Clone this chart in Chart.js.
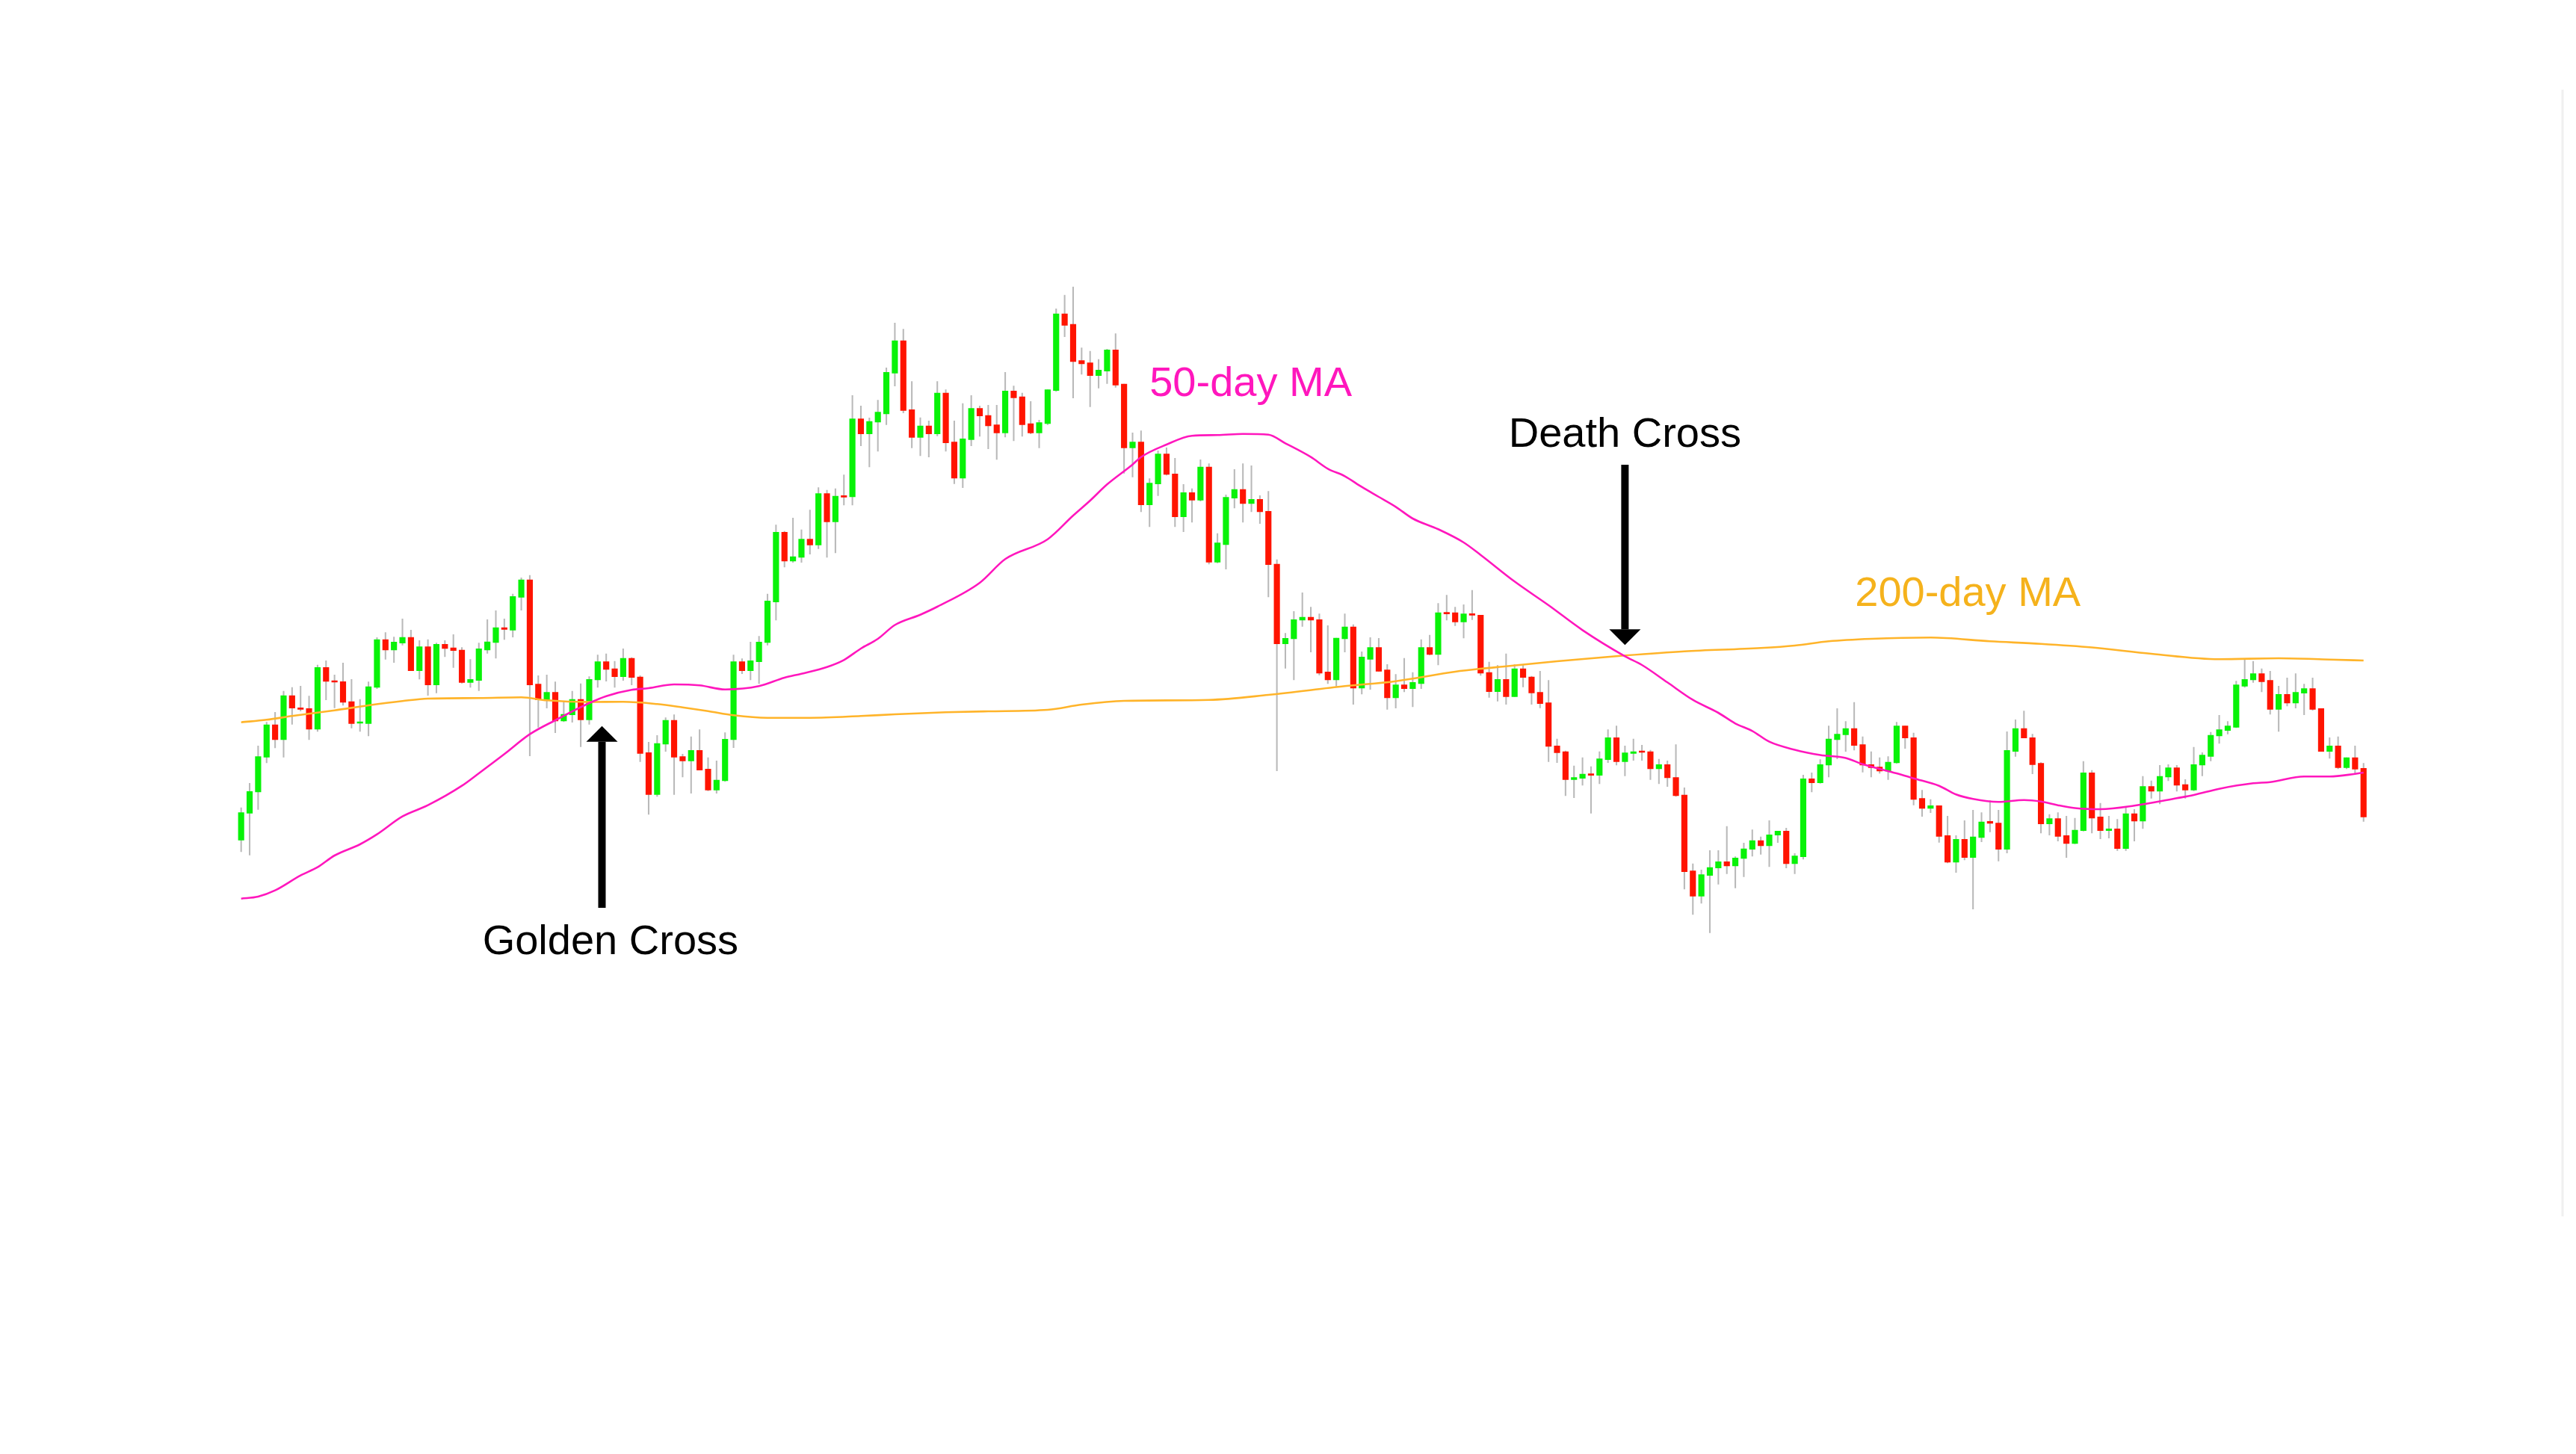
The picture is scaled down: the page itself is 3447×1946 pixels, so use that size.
<!DOCTYPE html>
<html lang="en">
<head>
<meta charset="utf-8">
<title>Golden Cross / Death Cross</title>
<script src="https://cdn.jsdelivr.net/npm/chart.js@4.4.1/dist/chart.umd.min.js"></script>
<style>
    html, body { margin: 0; padding: 0; background: #ffffff; }
    #wrap { position: relative; width: 100vw; height: 100vh; }
</style>
</head>
<body>
<div id="wrap"><canvas id="crossChart"></canvas></div>
<script>
// Daily candles (open / high / low / close)
const opens = [
    27.57, 31.17, 34.00, 38.67, 43.00, 41.00, 46.90, 45.27, 45.17, 42.40,
    50.67, 48.90, 48.77, 46.10, 43.20, 43.17, 48.00, 54.40, 53.00, 53.93,
    54.70, 50.23, 53.43, 48.33, 53.77, 53.30, 53.00, 48.67, 48.93, 53.00,
    54.00, 56.00, 55.67, 60.07, 62.40, 48.43, 46.33, 47.33, 43.50, 44.33,
    46.40, 43.67, 49.00, 51.43, 50.50, 49.43, 51.90, 49.40, 39.27, 33.67,
    40.40, 43.60, 38.73, 38.17, 39.57, 37.07, 34.27, 35.50, 41.00, 51.43,
    50.23, 51.43, 54.00, 59.43, 68.77, 64.90, 65.40, 67.83, 67.07, 73.93,
    70.17, 73.67, 73.50, 83.93, 81.93, 83.50, 84.60, 90.07, 94.40, 85.17,
    81.47, 83.00, 81.93, 87.40, 80.83, 76.00, 81.17, 85.33, 84.40, 83.13,
    82.07, 87.67, 86.90, 83.30, 82.07, 83.30, 87.73, 98.00, 96.60, 91.73,
    91.43, 89.73, 90.33, 93.17, 88.60, 80.07, 80.83, 72.43, 75.23, 79.23,
    76.57, 70.83, 74.07, 73.07, 77.50, 64.77, 67.10, 73.33, 74.50, 72.60,
    73.17, 71.57, 64.50, 53.83, 54.50, 57.00, 57.40, 57.07, 50.07, 49.00,
    54.50, 56.10, 47.90, 51.77, 53.33, 50.33, 46.60, 48.33, 47.83, 48.50,
    53.33, 52.40, 58.00, 58.00, 56.77, 57.83, 57.67, 50.00, 47.43, 49.07,
    46.77, 50.50, 49.40, 47.33, 45.93, 40.17, 39.40, 35.67, 35.83, 36.43,
    36.23, 38.33, 41.27, 38.07, 39.17, 39.40, 39.40, 37.10, 37.67, 35.93,
    33.60, 23.43, 20.07, 22.83, 23.83, 24.67, 24.10, 25.10, 26.33, 27.50,
    26.80, 28.23, 28.77, 24.40, 25.33, 35.77, 35.23, 37.60, 41.00, 41.67,
    42.50, 40.33, 37.67, 37.33, 36.80, 37.90, 42.83, 41.27, 33.13, 31.80,
    32.17, 28.17, 24.60, 27.67, 25.23, 27.90, 30.07, 29.83, 26.33, 39.43,
    42.50, 41.27, 37.83, 29.73, 30.43, 28.17, 27.10, 28.83, 36.57, 30.67,
    28.83, 29.07, 26.43, 31.10, 30.10, 34.73, 34.10, 36.00, 37.23, 35.00,
    34.27, 37.60, 38.77, 41.50, 42.23, 42.67, 48.17, 49.00, 49.83, 48.93,
    45.07, 47.07, 45.90, 47.23, 47.83, 45.17, 39.43, 40.17, 37.27, 38.60,
    37.17
];
const highs = [
    31.90, 35.17, 40.17, 43.33, 44.67, 47.50, 48.00, 48.17, 46.83, 51.00,
    51.57, 49.67, 51.27, 49.07, 46.40, 48.73, 54.67, 55.33, 54.73, 57.17,
    55.67, 54.27, 54.40, 53.93, 54.27, 55.07, 53.33, 51.73, 53.93, 57.07,
    58.27, 57.17, 60.50, 62.67, 63.00, 49.57, 49.67, 48.73, 46.17, 47.50,
    48.50, 49.43, 52.33, 52.50, 51.50, 53.17, 52.00, 49.57, 40.67, 41.57,
    43.93, 44.33, 39.07, 41.40, 42.33, 38.60, 38.17, 41.93, 52.33, 51.83,
    54.07, 54.83, 60.50, 69.73, 68.90, 70.67, 69.10, 71.73, 74.73, 74.40,
    74.60, 76.43, 87.07, 85.67, 84.07, 86.43, 90.77, 96.77, 95.93, 88.93,
    84.10, 83.67, 88.93, 87.83, 83.67, 86.00, 87.07, 85.67, 85.77, 85.77,
    90.17, 88.33, 87.40, 86.27, 83.77, 87.83, 98.67, 100.50, 101.60, 93.43,
    93.00, 91.90, 93.27, 95.33, 88.60, 82.07, 82.33, 75.93, 79.67, 80.07,
    78.67, 75.17, 74.60, 78.47, 77.93, 68.60, 73.77, 77.17, 77.93, 77.67,
    73.67, 74.23, 65.10, 55.23, 58.17, 60.67, 58.73, 57.83, 56.27, 54.60,
    57.83, 56.40, 52.77, 54.67, 54.57, 51.07, 49.73, 51.90, 50.00, 54.40,
    55.00, 59.23, 60.33, 58.73, 59.07, 61.00, 57.67, 51.40, 50.93, 52.50,
    51.07, 51.07, 49.50, 50.17, 48.93, 41.10, 39.50, 37.50, 38.60, 37.40,
    39.40, 42.33, 42.83, 40.17, 41.10, 40.27, 39.60, 38.40, 38.17, 40.33,
    34.57, 24.40, 23.57, 26.17, 26.17, 29.40, 25.33, 27.17, 28.93, 28.00,
    30.17, 28.77, 29.17, 25.77, 36.27, 36.57, 38.33, 42.83, 45.17, 43.43,
    46.00, 41.40, 39.40, 38.60, 38.73, 43.33, 42.83, 41.90, 34.23, 33.00,
    32.17, 30.77, 28.17, 30.17, 31.57, 31.23, 32.83, 31.57, 42.07, 43.67,
    44.83, 41.73, 37.93, 31.00, 31.23, 30.77, 30.50, 38.10, 36.90, 32.50,
    30.77, 30.33, 31.90, 31.67, 36.10, 35.50, 37.57, 37.67, 37.57, 35.67,
    40.00, 39.27, 42.00, 44.27, 43.43, 48.83, 51.67, 51.50, 50.50, 50.17,
    48.17, 49.27, 49.83, 48.43, 49.27, 45.17, 41.27, 41.40, 38.60, 40.17,
    37.83
];
const lows = [
    26.00, 25.57, 31.67, 37.90, 39.90, 38.67, 43.07, 44.83, 41.00, 42.10,
    46.33, 45.27, 45.60, 42.57, 42.10, 41.50, 47.83, 51.77, 51.33, 53.67,
    50.23, 49.10, 46.93, 47.27, 52.10, 50.67, 48.57, 48.00, 47.57, 52.57,
    51.90, 54.40, 54.73, 58.33, 38.83, 42.67, 45.23, 41.93, 43.40, 43.33,
    40.07, 43.07, 48.00, 48.83, 48.00, 48.93, 48.33, 38.07, 31.00, 33.40,
    39.43, 33.67, 36.00, 33.83, 36.93, 34.17, 33.83, 35.40, 39.93, 49.83,
    49.00, 48.50, 53.67, 57.00, 64.10, 64.73, 64.73, 65.83, 66.57, 65.40,
    66.00, 72.40, 72.40, 80.33, 77.50, 79.60, 83.17, 88.33, 84.73, 80.07,
    79.00, 78.83, 81.67, 79.60, 75.27, 74.73, 80.33, 81.60, 79.93, 78.50,
    81.50, 81.00, 81.60, 81.93, 80.07, 83.17, 87.60, 94.93, 86.73, 89.90,
    85.57, 88.07, 88.67, 88.17, 76.67, 76.17, 71.50, 69.50, 73.67, 76.40,
    69.50, 68.83, 70.10, 72.93, 64.50, 64.67, 63.83, 72.00, 70.10, 71.50,
    69.93, 60.10, 36.83, 50.57, 49.00, 56.17, 52.73, 49.67, 48.50, 48.17,
    52.73, 45.73, 47.10, 47.73, 50.17, 45.07, 45.23, 47.40, 45.40, 47.83,
    52.33, 51.00, 57.00, 56.27, 54.60, 57.07, 49.60, 46.67, 46.17, 45.73,
    46.77, 48.07, 45.73, 45.27, 38.07, 37.93, 33.50, 33.23, 34.90, 31.17,
    35.10, 37.93, 37.60, 36.17, 38.23, 38.23, 35.67, 35.10, 34.73, 33.40,
    21.00, 17.60, 19.10, 15.17, 21.67, 23.07, 21.17, 22.67, 25.40, 25.67,
    24.00, 27.23, 23.83, 23.07, 25.00, 34.00, 35.17, 36.00, 38.43, 39.43,
    39.60, 36.67, 36.00, 36.50, 35.67, 37.83, 39.83, 32.27, 30.73, 31.23,
    27.27, 24.50, 23.23, 24.90, 18.33, 27.33, 28.67, 24.77, 25.83, 38.77,
    41.23, 36.43, 28.50, 28.23, 27.43, 25.23, 27.07, 28.77, 28.50, 27.73,
    27.83, 26.17, 26.17, 27.43, 29.10, 33.17, 32.40, 35.50, 34.10, 33.17,
    34.17, 36.17, 38.17, 40.50, 41.77, 42.60, 48.00, 48.67, 47.40, 44.40,
    42.10, 45.50, 45.23, 44.33, 44.93, 39.43, 38.50, 37.10, 37.10, 36.50,
    30.07
];
const closes = [
    31.23, 34.07, 38.73, 43.00, 41.00, 46.90, 45.23, 45.07, 42.40, 50.67,
    48.80, 48.70, 46.00, 43.17, 43.30, 48.10, 54.40, 53.00, 54.07, 54.70,
    50.23, 53.43, 48.33, 53.77, 53.20, 52.93, 48.67, 49.07, 53.17, 54.10,
    56.00, 55.77, 60.17, 62.40, 48.33, 46.33, 47.33, 43.50, 44.40, 46.40,
    43.67, 49.07, 51.43, 50.40, 49.43, 51.90, 49.33, 39.17, 33.67, 40.50,
    43.60, 38.67, 38.17, 39.57, 36.93, 34.27, 35.60, 41.07, 51.43, 50.23,
    51.57, 54.07, 59.57, 68.77, 64.90, 65.50, 67.83, 67.07, 73.93, 70.17,
    73.60, 73.47, 83.93, 81.93, 83.60, 84.83, 90.17, 94.40, 85.07, 81.47,
    83.00, 81.93, 87.40, 80.73, 76.00, 81.27, 85.33, 84.33, 83.00, 82.07,
    87.67, 86.77, 83.17, 82.07, 83.43, 87.83, 98.00, 96.47, 91.60, 91.30,
    89.73, 90.47, 93.17, 88.47, 80.07, 80.83, 72.43, 75.33, 79.23, 76.50,
    70.83, 74.07, 73.07, 77.50, 64.77, 67.33, 73.43, 74.50, 72.60, 73.17,
    71.50, 64.43, 53.83, 54.57, 57.07, 57.40, 57.00, 49.90, 49.00, 54.60,
    56.10, 47.90, 52.07, 53.33, 50.17, 46.60, 48.33, 47.83, 48.67, 53.33,
    52.40, 58.00, 57.83, 56.77, 57.83, 57.67, 49.90, 47.43, 49.07, 46.77,
    50.50, 49.33, 47.27, 45.83, 40.10, 39.27, 35.67, 35.93, 36.40, 36.23,
    38.43, 41.27, 38.07, 39.23, 39.40, 39.30, 37.10, 37.67, 35.90, 33.50,
    23.33, 20.07, 22.93, 23.90, 24.67, 24.10, 25.17, 26.40, 27.50, 26.80,
    28.27, 28.77, 24.40, 25.43, 35.77, 35.23, 37.67, 41.10, 41.73, 42.50,
    40.23, 37.60, 37.27, 36.80, 38.00, 42.83, 41.23, 33.00, 31.80, 32.17,
    28.07, 24.60, 27.67, 25.23, 28.00, 30.00, 29.80, 26.33, 39.57, 42.50,
    41.23, 37.67, 29.73, 30.43, 28.07, 27.10, 28.90, 36.57, 30.50, 28.83,
    29.07, 26.43, 31.10, 30.10, 34.73, 34.10, 36.10, 37.23, 34.90, 34.27,
    37.67, 38.93, 41.60, 42.33, 42.83, 48.33, 49.07, 49.83, 48.77, 45.07,
    47.07, 45.90, 47.33, 47.83, 45.07, 39.43, 40.17, 37.27, 38.60, 37.07,
    30.67
];

// Moving averages, read at sample days (day index into the candles)
const ma50Days = [
    0, 2, 4, 7, 9, 11, 14, 16, 19, 22, 26, 28, 31, 34, 37, 41, 43, 46, 48, 51,
    54, 57, 61, 64, 66, 69, 71, 73, 75, 77, 80, 82, 87, 90, 95, 98, 100, 102, 105, 106,
    109, 112, 115, 118, 121, 123, 126, 128, 130, 132, 134, 136, 138, 141, 144, 146, 150, 154, 158, 163,
    165, 168, 171, 174, 176, 178, 180, 183, 186, 189, 191, 195, 197, 200, 202, 204, 207, 210, 212, 214,
    216, 219, 223, 228, 230, 233, 237, 239, 243, 246, 249, 250
];
const ma50Values = [
    19.73, 20.00, 20.83, 22.83, 23.93, 25.50, 27.00, 28.33, 30.73, 32.23, 34.83, 36.50, 39.07, 41.73, 43.60, 45.90, 46.83, 47.67, 47.90, 48.40,
    48.27, 47.73, 48.17, 49.30, 49.83, 50.73, 51.67, 53.20, 54.50, 56.35, 57.73, 58.80, 62.00, 65.17, 67.83, 71.00, 73.00, 75.17, 77.83, 78.83,
    80.50, 81.67, 81.77, 81.93, 81.83, 80.67, 78.83, 77.27, 76.27, 74.83, 73.50, 72.17, 70.60, 69.17, 67.40, 65.73, 62.17, 59.00, 55.67, 52.17,
    51.00, 48.67, 46.33, 44.60, 43.17, 42.17, 40.73, 39.65, 38.95, 38.55, 37.73, 36.50, 35.83, 34.83, 33.67, 33.07, 32.67, 32.93, 32.73, 32.23,
    31.85, 31.70, 32.17, 33.17, 33.60, 34.43, 35.17, 35.33, 36.07, 36.07, 36.43, 36.60
];
const ma200Days = [
    0, 3, 6, 11, 15, 19, 22, 28, 33, 36, 41, 45, 49, 52, 55, 58, 62, 67, 73, 77,
    83, 88, 95, 99, 104, 114, 121, 130, 136, 143, 146, 149, 155, 163, 170, 179, 183, 187, 192, 199,
    206, 212, 218, 225, 233, 240, 246, 250
];
const ma200Values = [
    43.33, 43.67, 44.17, 44.93, 45.60, 46.17, 46.50, 46.57, 46.67, 46.27, 46.05, 46.07, 45.77, 45.33, 44.83, 44.27, 43.93, 43.93, 44.17, 44.40,
    44.67, 44.80, 45.00, 45.70, 46.20, 46.33, 47.00, 48.17, 48.83, 50.10, 50.50, 50.83, 51.50, 52.27, 52.83, 53.27, 53.60, 54.17, 54.50, 54.67,
    54.17, 53.83, 53.35, 52.50, 51.77, 51.90, 51.73, 51.60
];

(function() {
    'use strict';

    const GREEN = '#08f208';
    const RED = '#ff1400';
    const WICK = '#b9b9b9';
    const PINK = '#ff17bd';
    const ORANGE = '#ffb42a';
    const FONT = '56px "Liberation Sans", Helvetica, Arial, sans-serif';

    // Arrows, labels and the faint frame line are drawn on top of the datasets
    const notesPlugin = {
        id: 'crossNotes',
        afterDatasetsDraw(chart, args, opts) {
            const ctx = chart.ctx;
            const xs = chart.scales.x;
            const ys = chart.scales.y;

            ctx.save();

            // thin grey line at the right edge of the picture
            ctx.strokeStyle = '#f0f0f0';
            ctx.lineWidth = 3;
            ctx.beginPath();
            ctx.moveTo(chart.width - 18, 120);
            ctx.lineTo(chart.width - 18, 1628);
            ctx.stroke();

            ctx.fillStyle = '#000000';
            opts.arrows.forEach(function(a) {
                const px = xs.getPixelForValue(a.day);
                const tip = ys.getPixelForValue(a.tip);
                const tail = ys.getPixelForValue(a.tail);
                const dir = tail > tip ? 1 : -1;
                const base = tip + dir * opts.headLength;
                ctx.fillRect(px - opts.shaft / 2, Math.min(base, tail), opts.shaft, Math.abs(tail - base));
                ctx.beginPath();
                ctx.moveTo(px, tip);
                ctx.lineTo(px - opts.headHalf, base);
                ctx.lineTo(px + opts.headHalf, base);
                ctx.closePath();
                ctx.fill();
            });

            ctx.font = FONT;
            ctx.textBaseline = 'alphabetic';
            opts.labels.forEach(function(l) {
                ctx.fillStyle = l.color;
                ctx.textAlign = l.align;
                ctx.fillText(l.text, xs.getPixelForValue(l.day), ys.getPixelForValue(l.value));
            });

            ctx.restore();
        }
    };

    function initCrossChart() {
        const canvas = document.getElementById('crossChart');
        if (!canvas || typeof Chart === 'undefined') {
            console.error('Cross chart: canvas or Chart.js missing');
            return;
        }

        const days = opens.map(function(_, i) { return String(i + 1); });

        const wicks = lows.map(function(l, i) { return [l, highs[i]]; });
        const bodies = opens.map(function(o, i) { return [o, closes[i]]; });
        const bodyColors = opens.map(function(o, i) { return closes[i] >= o ? GREEN : RED; });

        const ma50 = ma50Days.map(function(d, i) { return { x: days[d], y: ma50Values[i] }; });
        const ma200 = ma200Days.map(function(d, i) { return { x: days[d], y: ma200Values[i] }; });

        const config = {
            type: 'bar',
            data: {
                labels: days,
                datasets: [
                    {
                        type: 'line',
                        label: '50-day MA',
                        data: ma50,
                        borderColor: PINK,
                        borderWidth: 2.6,
                        pointRadius: 0,
                        cubicInterpolationMode: 'monotone',
                        fill: false,
                        order: 0
                    },
                    {
                        type: 'line',
                        label: '200-day MA',
                        data: ma200,
                        borderColor: ORANGE,
                        borderWidth: 2.6,
                        pointRadius: 0,
                        cubicInterpolationMode: 'monotone',
                        fill: false,
                        order: 0
                    },
                    {
                        label: 'body',
                        data: bodies,
                        backgroundColor: bodyColors,
                        barThickness: 7.5,
                        minBarLength: 2,
                        grouped: false,
                        borderWidth: 0,
                        order: 1
                    },
                    {
                        label: 'wick',
                        data: wicks,
                        backgroundColor: WICK,
                        barThickness: 1.4,
                        grouped: false,
                        borderWidth: 0,
                        order: 2
                    }
                ]
            },
            options: {
                responsive: true,
                maintainAspectRatio: false,
                devicePixelRatio: 1,
                animation: false,
                layout: {
                    padding: { left: 317, right: 278.6, top: 0, bottom: 0 }
                },
                plugins: {
                    legend: { display: false },
                    tooltip: { enabled: false },
                    crossNotes: {
                        shaft: 10,
                        headHalf: 21,
                        headLength: 21,
                        arrows: [
                            { day: 42.5, tip: 42.83, tail: 18.5 },
                            { day: 163, tip: 53.67, tail: 77.8 }
                        ],
                        labels: [
                            { text: 'Golden Cross', day: 43.5, value: 12.33, align: 'center', color: '#000000' },
                            { text: 'Death Cross', day: 163, value: 80.2, align: 'center', color: '#000000' },
                            { text: '50-day MA', day: 107, value: 87.0, align: 'left', color: PINK },
                            { text: '200-day MA', day: 190.1, value: 58.9, align: 'left', color: '#f5b21c' }
                        ]
                    }
                },
                scales: {
                    x: {
                        display: false,
                        offset: true,
                        grid: { display: false }
                    },
                    y: {
                        display: false,
                        min: -54.6,
                        max: 140,
                        grid: { display: false }
                    }
                }
            },
            plugins: [notesPlugin]
        };

        new Chart(canvas, config);
    }

    if (document.readyState === 'loading') {
        document.addEventListener('DOMContentLoaded', initCrossChart);
    } else {
        initCrossChart();
    }
})();
</script>
</body>
</html>
